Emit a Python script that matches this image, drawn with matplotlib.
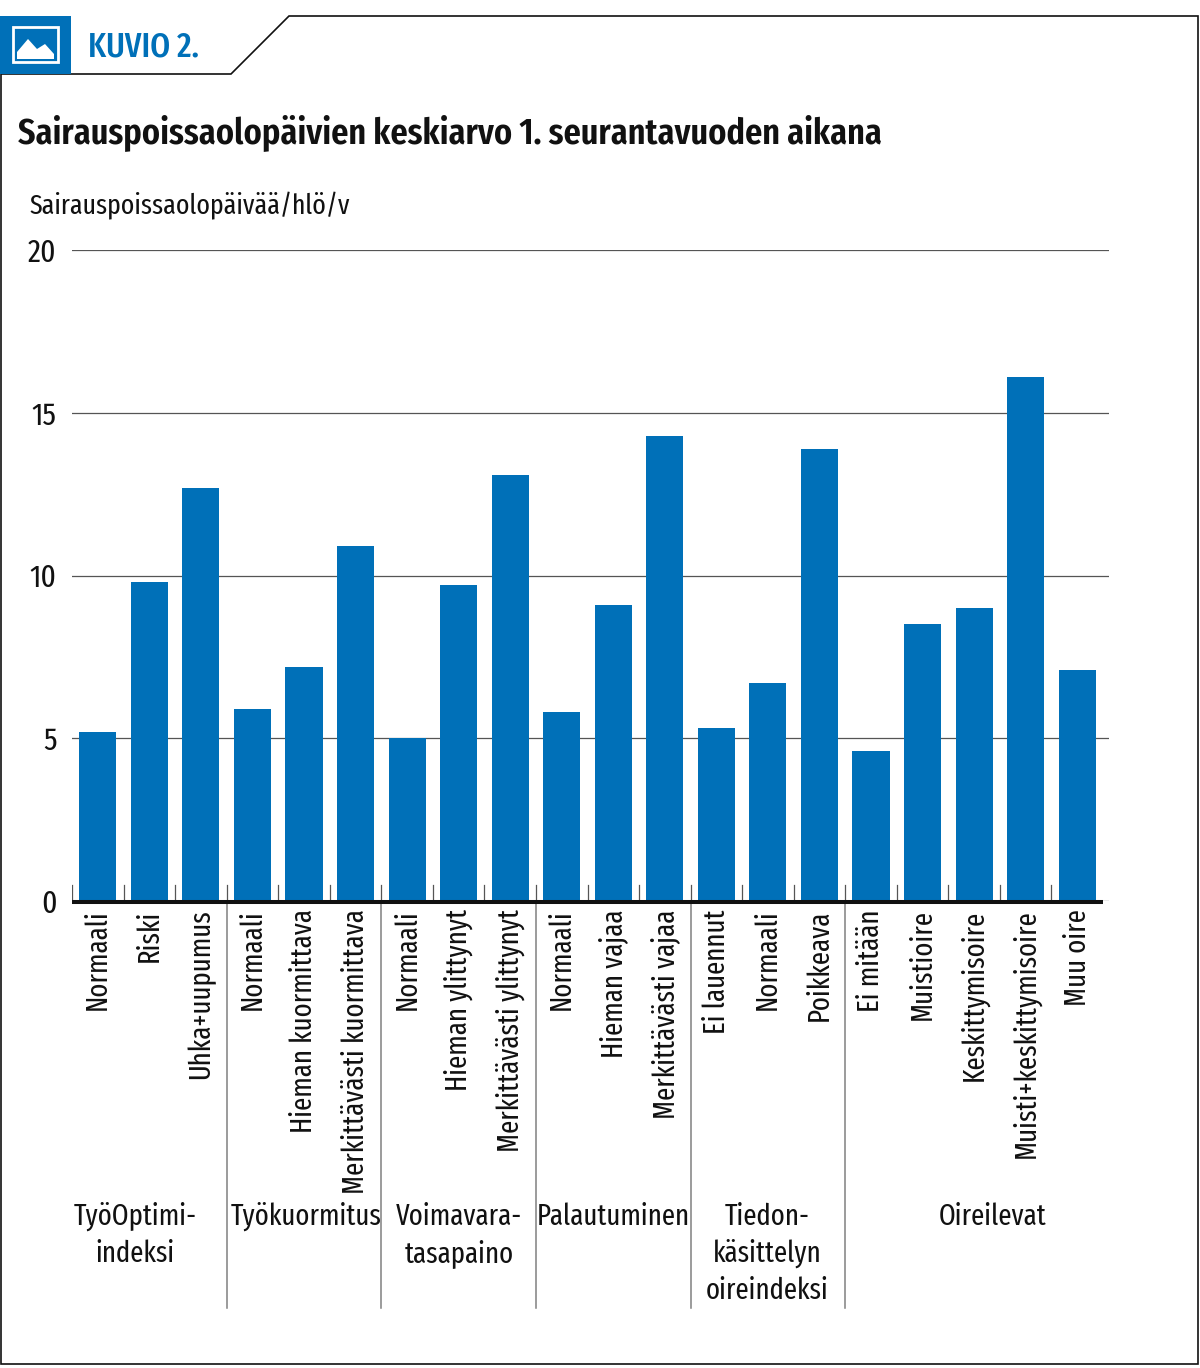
"""Sairauspoissaolopäivät bar chart (KUVIO 2)."""
import matplotlib
matplotlib.use("Agg")
import matplotlib.pyplot as plt
from matplotlib.patches import Polygon, Rectangle

plt.rcParams["font.family"] = ["Fira Sans Extra Condensed", "Liberation Sans", "DejaVu Sans"]

BLUE = "#0070b8"
INK = "#111111"
W, H = 1200, 1368

categories = [
    "Normaali", "Riski", "Uhka+uupumus",
    "Normaali", "Hieman kuormittava", "Merkittävästi kuormittava",
    "Normaali", "Hieman ylittynyt", "Merkittävästi ylittynyt",
    "Normaali", "Hieman vajaa", "Merkittävästi vajaa",
    "Ei lauennut", "Normaali", "Poikkeava",
    "Ei mitään", "Muistioire", "Keskittymisoire", "Muisti+keskittymisoire", "Muu oire",
]
values = [
    5.2, 9.8, 12.7,
    5.9, 7.2, 10.9,
    5.0, 9.7, 13.1,
    5.8, 9.1, 14.3,
    5.3, 6.7, 13.9,
    4.6, 8.5, 9.0, 16.1, 7.1,
]
y_ticks = [0, 5, 10, 15, 20]
group_labels = ["TyöOptimi-\nindeksi", "Työkuormitus", "Voimavara-\ntasapaino",
                "Palautuminen", "Tiedon-\nkäsittelyn\noireindeksi", "Oireilevat"]
group_ends = [2.5, 5.5, 8.5, 11.5, 14.5]


def main():
    fig = plt.figure(figsize=(W / 100, H / 100), dpi=100)

    # page furniture in pixel coordinates
    bg = fig.add_axes([0, 0, 1, 1])
    bg.set_xlim(0, W)
    bg.set_ylim(H, 0)
    bg.axis("off")
    bg.add_patch(Polygon(
        [(1, 74), (231, 74), (289, 16), (1198, 16), (1198, 1364), (1, 1364)],
        closed=True, fill=False, edgecolor=INK, linewidth=1.2,
    ))
    bg.add_patch(Rectangle((0, 16), 71, 58, color=BLUE, linewidth=0))
    bg.add_patch(Rectangle((13, 27), 45, 35, fill=False, edgecolor="white", linewidth=2))
    bg.add_patch(Polygon(
        [(17, 59), (17, 52), (28, 39), (37, 49), (45, 44), (54, 54), (54, 59)],
        closed=True, color="white", linewidth=0,
    ))
    bg.text(88, 47, "KUVIO 2.", color=BLUE, fontsize=25, fontweight="medium", va="center", ha="left")
    bg.text(18, 133, "Sairauspoissaolopäivien keskiarvo 1. seurantavuoden aikana",
            fontsize=26.8, fontweight="semibold", va="center", ha="left", color=INK)
    bg.text(30, 206, "Sairauspoissaolopäivää/hlö/v", fontsize=20.2, va="center", ha="left", color=INK)

    # plot area
    left, right, top, bottom = 72, 1109, 250, 901
    ax = fig.add_axes([left / W, 1 - bottom / H, (right - left) / W, (bottom - top) / H])
    ax.patch.set_alpha(0)
    step = 51.55
    ax.set_xlim(-0.5, -0.5 + (right - left) / step)
    ax.set_ylim(0, 20)
    xs = list(range(len(categories)))

    ax.yaxis.grid(True, color="#555555", linewidth=0.9)
    ax.set_axisbelow(True)
    ax.bar(xs, values, width=0.72, color=BLUE, zorder=2)

    for s in ax.spines.values():
        s.set_visible(False)
    ax.set_yticks(y_ticks)
    ax.tick_params(axis="y", length=0, pad=11, labelsize=23, labelcolor=INK)

    ax.set_xticks(xs)
    ax.set_xticklabels(categories, rotation=90, fontsize=21, color=INK)
    ax.tick_params(axis="x", length=0, pad=6)

    # heavy baseline and the short ticks between bars
    n = len(categories)
    ax.plot([-0.5, n - 0.5], [-0.035, -0.035], color=INK, linewidth=2.9, zorder=4,
            clip_on=False, solid_capstyle="butt")
    for i in range(n):
        ax.plot([i - 0.5, i - 0.5], [0, 0.5], color="#555555", linewidth=0.9, zorder=1)

    # group separators drop below the axis
    for x in group_ends:
        ax.plot([x, x], [0, -(1308 - bottom) / ((bottom - top) / 20)], color="#808080",
                linewidth=1.1, clip_on=False, zorder=1)

    for label, cx in zip(group_labels, [135, 306, 459, 613, 767, 993]):
        bg.text(cx, 1202, label, fontsize=21, ha="center", va="top", color=INK, linespacing=1.37)

    fig.savefig("out.png", dpi=100)


if __name__ == "__main__":
    main()
